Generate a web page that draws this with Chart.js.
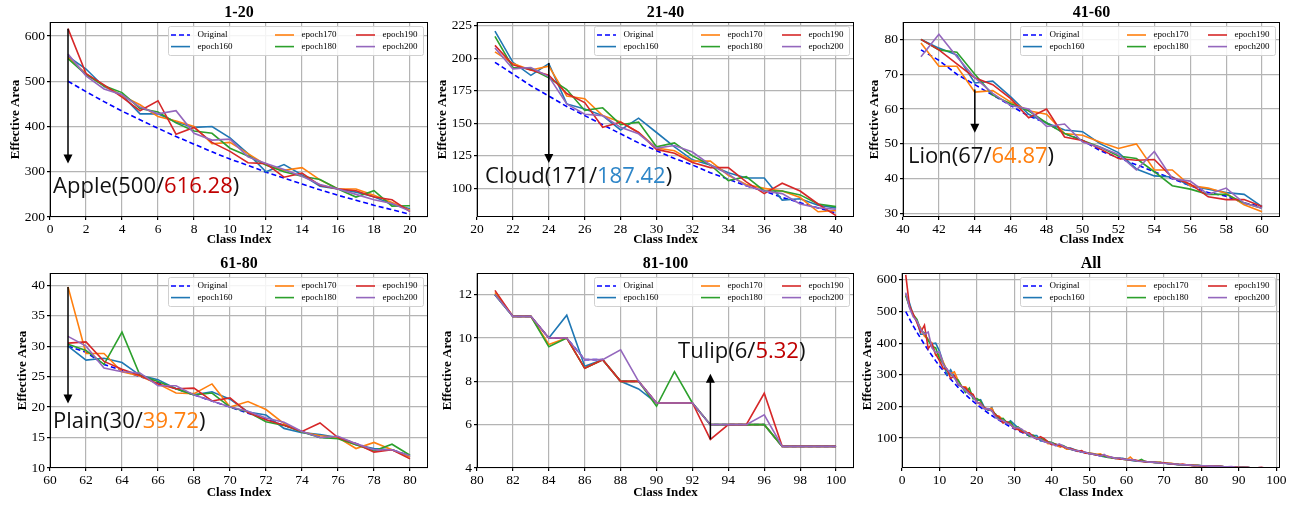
<!DOCTYPE html>
<html lang="en">
<head>
<meta charset="UTF-8">
<title>Effective Area per class</title>
<script src="https://cdn.jsdelivr.net/npm/chart.js"></script>
<style>
  body { margin: 0; background: #fff; }
  #wrap { position: relative; width: 1294px; height: 506px; overflow: hidden; background: #fff; }
  canvas { position: absolute; }
</style>
</head>
<body>
<div id="wrap"></div>
<script>
// ---- data ----
const classIndex = [
  1,2,3,4,5,6,7,8,9,10,11,12,13,14,15,16,17,18,19,20,
  21,22,23,24,25,26,27,28,29,30,31,32,33,34,35,36,37,38,39,40,
  41,42,43,44,45,46,47,48,49,50,51,52,53,54,55,56,57,58,59,60,
  61,62,63,64,65,66,67,68,69,70,71,72,73,74,75,76,77,78,79,80,
  81,82,83,84,85,86,87,88,89,90,91,92,93,94,95,96,97,98,99,100];

const original = [
  500,477,455,434,415,396,378,361,344,328,314,299,286,273,260,248,237,226,216,206,
  197,188,179,171,163,156,149,142,135,129,123,118,112,107,102,98,93,89,85,81,
  77,74,70,67,64,61,58,56,53,51,48,46,44,42,40,38,36,35,33,32,
  30,29,27,26,25,24,23,22,21,20,19,18,17,16,15,15,14,13,13,12,
  12,11,11,10,10,9,9,8,8,7,7,7,6,6,6,6,5,5,5,5];

const epoch160 = [
  555,527,488,470,428,428,410,398,400,375,340,300,316,293,268,262,255,245,228,218,
  221,197,187,196,165,161,156,145,154,143,132,122,118,112,108,108,91,92,87,85,
  80,77.5,75.5,67.5,68,63.5,58.5,56,54,53.5,50,47.5,42.8,40.8,40.5,38,37,36,35.5,32,
  30,27.7,28,27.3,25.2,24.5,23,22,22.5,21.3,19.2,18.7,16.5,15.8,15.5,15,13.8,13.2,13,11.8,
  12,11,11,10,11.05,8.7,9,8,7.65,7,7,7,6,6,6,6,5,5,5,5];

const epoch170 = [
  553,517,490,468,448,422,412,400,362,365,340,315,303,309,282,262,262,248,232,215,
  205,196,191,194,171,169,156,151,143,131,129,121,121,110,103,100,98,93,82,83,
  79,72.3,72.3,64.87,65.3,62,59.5,58.5,53,52.5,50.5,48.7,50,42.5,42.5,38,37.3,35.8,32.5,30.5,
  39.72,28.8,28.8,25.8,25.1,23.8,22.3,22.2,23.8,20,20.9,19.6,17.3,15.9,15.3,15,13.2,14.2,13,11.8,
  12.1,11,11,9.7,10,8.6,9,8,8,7,7,7,6,6,6,6,5,5,5,5];

const epoch180 = [
  550,515,490,475,440,432,408,390,385,352,335,315,300,290,283,262,244,258,224,225,
  217,193,192,185,176,160,162,149,151,132,135,125,118,106,109,98,98,95,88,86,
  80,77,76.3,70,64,61.5,59.5,56,53,51,49,46.5,45.8,42,38,37,35.5,35.5,33,31.5,
  30.3,29.3,27,32.3,25.2,24.2,23,22,22.3,20,19.2,17.6,17,15.9,15,14.8,13.8,12.8,13.9,12.1,
  12,11,11,9.6,10,8.6,9,8,8,6.85,8.45,7,6,6,6,6,5,5,5,5];

const epoch190 = [
  616.28,517,492,465,435,457,383,398,365,345,320,318,288,297,270,262,258,244,238,212,
  210,195,191,187,173,166,147,151,143,130,127,120,116,116,105,96,104,98,88,79,
  80,77,73,69,67,63,57.5,60,52,51,48.5,45.8,45.3,45.5,40.3,38.5,34.8,34,34,32,
  30.5,30.7,27.5,26.2,25.2,23.8,23,23.1,21,21.5,19.1,17.9,17,16,17.4,15,14,12.6,13,11.5,
  12.2,11,11,10,10,8.6,9,8,8,7,7,7,5.32,6,6,7.45,5,5,5,5];

const epoch200 = [
  560,512,483,470,443,428,435,385,370,372,333,318,305,290,272,262,250,238,230,213,
  208,192,193,186,165,157,156,147,142,131,133,128,118,111,102,98,96,88,85,84,
  75,81.5,75,69,64.5,61,60,55,55.7,50.5,49,47,42.5,47.8,40,39.3,35.5,37.3,33,31.5,
  31.6,30,26.4,25.8,25.6,23.5,23.5,22,21,20,19.3,18.2,17.5,16,15,15.2,14,13,13,12,
  12,11,11,10,10,9,9,9.45,8,7,7,7,6,6,6,6.45,5,5,5,5];

const seriesNames = ['Original', 'epoch160', 'epoch170', 'epoch180', 'epoch190', 'epoch200'];
const seriesValues = [original, epoch160, epoch170, epoch180, epoch190, epoch200];

const panelTitles = ['1-20', '21-40', '41-60', '61-80', '81-100', 'All'];
const panelClasses = [[1, 20], [21, 40], [41, 60], [61, 80], [81, 100], [1, 100]];
const xLimits = [[0, 21], [20, 41], [40, 61], [60, 81], [80, 101], [0, 101]];
const yLimits = [[200, 631], [78, 228], [29, 85], [10, 42], [4, 13], [5, 622]];
const xTicks = [
  [0,2,4,6,8,10,12,14,16,18,20],
  [20,22,24,26,28,30,32,34,36,38,40],
  [40,42,44,46,48,50,52,54,56,58,60],
  [60,62,64,66,68,70,72,74,76,78,80],
  [80,82,84,86,88,90,92,94,96,98,100],
  [0,10,20,30,40,50,60,70,80,90,100]];
const yTicks = [
  [200,300,400,500,600],
  [100,125,150,175,200,225],
  [30,40,50,60,70,80],
  [10,15,20,25,30,35,40],
  [4,6,8,10,12],
  [100,200,300,400,500,600]];

// annotations: class, arrow from -> to, label parts
const noteClass = [1, 24, 44, 61, 93];
const noteArrow = [[616.28, 318], [196.5, 119.5], [65.6, 53.2], [39.72, 20.6], [5.32, 8.35]];
const noteLabel = [
  ['Apple(500/', '616.28', ')'],
  ['Cloud(171/', '187.42', ')'],
  ['Lion(67/', '64.87', ')'],
  ['Plain(30/', '39.72', ')'],
  ['Tulip(6/', '5.32', ')']];
const noteAt = [[0.17, 253], [20.45, 104.2], [40.28, 44.5], [60.17, 16.6], [91.2, 9.1]];

// ---- styles / layout ----
const seriesColors = ['#0000ff', '#1f77b4', '#ff7f0e', '#2ca02c', '#d62728', '#9467bd'];
const noteColors = ['#c00000', '#2e86c8', '#ff7f0e', '#ff7f0e', '#c00000'];
// plot box [left, top, right, bottom], y title centre x, x title centre y
const plotBoxes = [
  [50, 22, 428, 217, 16, 239],
  [477, 22, 854, 217, 443, 239],
  [903, 22, 1280, 217, 875, 239],
  [50, 273, 428, 468, 23, 492],
  [477, 273, 854, 468, 448, 492],
  [902, 273, 1280, 468, 868, 492]];

const serif = '"Liberation Serif", "Times New Roman", serif';

const decor = {
  id: 'decor',
  afterDatasetsDraw(chart, args, opts) {
    const { ctx, chartArea: a } = chart;
    const xs = chart.scales.x, ys = chart.scales.y;
    ctx.save();
    // frame
    ctx.strokeStyle = '#000';
    ctx.lineWidth = 1;
    ctx.strokeRect(a.left + 0.5, a.top + 0.5, a.right - a.left - 1, a.bottom - a.top - 1);

    // title
    ctx.fillStyle = '#000';
    ctx.font = 'bold 16px ' + serif;
    ctx.textAlign = 'center';
    ctx.textBaseline = 'middle';
    ctx.fillText(opts.title, (a.left + a.right) / 2, a.top - 9);

    // arrow + label
    const n = opts.note;
    if (n !== null) {
      const px = xs.getPixelForValue(noteClass[n]);
      const y0 = ys.getPixelForValue(noteArrow[n][0]);
      const y1 = ys.getPixelForValue(noteArrow[n][1]);
      const dir = y1 > y0 ? 1 : -1;
      ctx.strokeStyle = '#000';
      ctx.lineWidth = 1.5;
      ctx.beginPath();
      ctx.moveTo(px, y0);
      ctx.lineTo(px, y1 - dir * 8);
      ctx.stroke();
      ctx.fillStyle = '#000';
      ctx.beginPath();
      ctx.moveTo(px, y1);
      ctx.lineTo(px - 4.5, y1 - dir * 9);
      ctx.lineTo(px + 4.5, y1 - dir * 9);
      ctx.closePath();
      ctx.fill();

      ctx.font = '22px "Open Sans", "Noto Sans", sans-serif';
      ctx.textAlign = 'left';
      ctx.textBaseline = 'alphabetic';
      let tx = xs.getPixelForValue(noteAt[n][0]);
      const ty = ys.getPixelForValue(noteAt[n][1]);
      noteLabel[n].forEach((part, k) => {
        ctx.fillStyle = k === 1 ? noteColors[n] : '#111';
        ctx.fillText(part, tx, ty);
        tx += ctx.measureText(part).width;
      });
    }

    // legend box, 3 columns x 2 rows
    const bw = 255, bh = 29;
    const bx = a.right - 5 - bw, by = a.top + 4;
    ctx.fillStyle = 'rgba(255,255,255,0.85)';
    ctx.strokeStyle = '#d0d0d0';
    ctx.lineWidth = 1;
    ctx.beginPath();
    ctx.roundRect(bx + 0.5, by + 0.5, bw, bh, 2);
    ctx.fill();
    ctx.stroke();
    const cols = [3, 107, 188];
    chart.data.datasets.forEach((ds, i) => {
      const x = bx + cols[Math.floor(i / 2)];
      const y = by + 9 + (i % 2) * 11.6;
      ctx.strokeStyle = ds.borderColor;
      ctx.lineWidth = 1.6;
      ctx.setLineDash(ds.borderDash || []);
      ctx.beginPath();
      ctx.moveTo(x, y);
      ctx.lineTo(x + 19, y);
      ctx.stroke();
      ctx.setLineDash([]);
      ctx.fillStyle = '#000';
      ctx.font = '9px ' + serif;
      ctx.textAlign = 'left';
      ctx.textBaseline = 'middle';
      ctx.fillText(ds.label, x + 26.5, y);
    });
    ctx.restore();
  }
};

const wrap = document.getElementById('wrap');
const padRight = 12;

plotBoxes.forEach((box, p) => {
  const [left, top, right, bottom, yTitleX, xTitleY] = box;
  const cl = Math.round(yTitleX - 8), ct = top - 22;
  const cr = right + padRight, cb = Math.round(xTitleY + 8);
  const cv = document.createElement('canvas');
  cv.width = cr - cl;
  cv.height = cb - ct;
  cv.style.left = cl + 'px';
  cv.style.top = ct + 'px';
  wrap.appendChild(cv);

  const [c0, c1] = panelClasses[p];
  const datasets = seriesNames.map((name, s) => ({
    label: name,
    data: classIndex.slice(c0 - 1, c1).map((c, k) => ({ x: c, y: seriesValues[s][c0 - 1 + k] })),
    borderColor: seriesColors[s],
    borderWidth: 1.6,
    borderDash: s === 0 ? [5, 3] : [],
    pointRadius: 0,
    tension: 0,
    fill: false,
    order: seriesNames.length - s
  }));

  const gridStyle = { color: '#b4b4b4', lineWidth: 1.2, tickColor: '#000', tickLength: 3 };

  new Chart(cv, {
    type: 'line',
    data: { datasets },
    options: {
      responsive: false,
      animation: false,
      devicePixelRatio: 1,
      layout: { padding: { top: 22, right: padRight, left: 0, bottom: 0 } },
      plugins: {
        legend: { display: false },
        tooltip: { enabled: false },
        decor: { title: panelTitles[p], note: p < 5 ? p : null }
      },
      scales: {
        x: {
          type: 'linear',
          min: xLimits[p][0],
          max: xLimits[p][1],
          afterBuildTicks: ax => { ax.ticks = xTicks[p].map(v => ({ value: v })); },
          afterFit: ax => { ax.height = cb - bottom; },
          grid: gridStyle,
          border: { display: false },
          ticks: { color: '#000', font: { family: serif, size: 13.5 }, padding: 1, maxRotation: 0, autoSkip: false },
          title: { display: true, text: 'Class Index', color: '#000', padding: 0,
                   font: { family: serif, size: 13, weight: 'bold', lineHeight: 1.2 } }
        },
        y: {
          type: 'linear',
          min: yLimits[p][0],
          max: yLimits[p][1],
          afterBuildTicks: ax => { ax.ticks = yTicks[p].map(v => ({ value: v })); },
          afterFit: ax => { ax.width = left - cl; },
          grid: gridStyle,
          border: { display: false },
          ticks: { color: '#000', font: { family: serif, size: 13.5 }, padding: 2 },
          title: { display: true, text: 'Effective Area', color: '#000', padding: 0,
                   font: { family: serif, size: 13, weight: 'bold', lineHeight: 1.2 } }
        }
      }
    },
    plugins: [decor]
  });
});
</script>
</body>
</html>
